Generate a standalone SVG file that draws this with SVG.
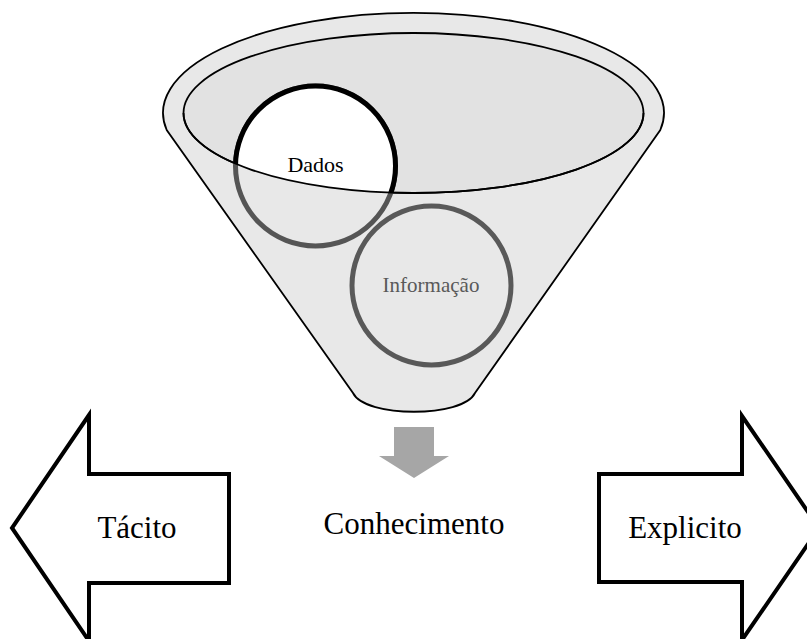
<svg xmlns="http://www.w3.org/2000/svg" width="807" height="639" viewBox="0 0 807 639">
<style>
  .txt { font-family: "Liberation Serif", "Times New Roman", serif; text-anchor: middle; }
  .big { font-size: 31px; fill: #000; }
  .blk { stroke: #000; stroke-width: 4; fill: #fff; stroke-linejoin: miter; }
  .fun { stroke: #000; stroke-width: 1.8; }
</style>
<defs>
  <clipPath id="innerClip">
    <ellipse cx="413.5" cy="113" rx="230" ry="80"/>
  </clipPath>
</defs>
<rect width="807" height="639" fill="#fff"/>
<g id="funnel">
  <path class="fun" fill="#e8e8e8" d="M166.7,130 A250.5,100 0 1 1 660.3,130 L475,393 C463,418 365,418 353,393 Z"/>
  <ellipse class="fun" fill="#e2e2e2" cx="413.5" cy="113" rx="230" ry="80"/>
</g>
<g id="dados">
  <circle cx="315.5" cy="166" r="80" fill="#e8e8e8" stroke="#555" stroke-width="5"/>
  <circle cx="315.5" cy="166" r="80" fill="#fff" stroke="#000" stroke-width="5" clip-path="url(#innerClip)"/>
  <path d="M183.5,113 A230,80 0 0 0 643.5,113" fill="none" stroke="#000" stroke-width="1.8"/>
  <text class="txt" x="315.5" y="172" font-size="22" fill="#000">Dados</text>
</g>
<g id="informacao">
  <circle cx="431.5" cy="285.5" r="79.5" fill="none" stroke="#595959" stroke-width="5"/>
  <text class="txt" x="431" y="292" font-size="21" fill="#595959">Informação</text>
</g>
<g id="connectors">
  <polygon fill="#a6a6a6" points="394,427 434,427 434,456 449,456 414,478 379,456 394,456"/>
</g>
<g id="conhecimento">
  <text class="txt big" x="414" y="534">Conhecimento</text>
</g>
<g id="tacito">
  <polygon class="blk" points="89,415 12,528 89,641 89,583 229,583 229,474 89,474"/>
  <text class="txt big" x="137" y="538">Tácito</text>
</g>
<g id="explicito">
  <polygon class="blk" points="742,416 819,528 742,640 742,582 599,582 599,474 742,474"/>
  <text class="txt big" x="685" y="538">Explicito</text>
</g>
</svg>
